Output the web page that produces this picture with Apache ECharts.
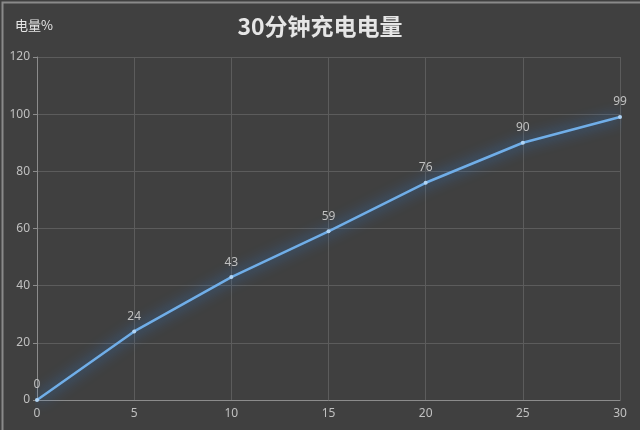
<!DOCTYPE html>
<html><head><meta charset="utf-8">
<script src="https://cdn.jsdelivr.net/npm/echarts@6/dist/echarts.min.js"></script>
<style>html,body{margin:0;padding:0;background:#404040}#c{width:640px;height:430px}</style>
</head><body><div id="c"></div>
<script>
const minutes = [0, 5, 10, 15, 20, 25, 30];
const charge = [0, 24, 43, 59, 76, 90, 99];
const titleText = '30分钟充电电量';
const yName = '电量%';
const chart = echarts.init(document.getElementById('c'));
chart.setOption({
  backgroundColor: '#404040',
  animation: false,
  title: { text: titleText, left: 'center', top: 10,
    textStyle: { color: '#e6e6e6', fontSize: 23, fontWeight: 'bold', fontFamily: 'Noto Sans CJK SC' } },
  graphic: [{ type: 'rect', left: 0, top: 0, shape: { width: 639, height: 429 },
    style: { fill: 'none', stroke: '#8a8a8a', lineWidth: 2 }, silent: true },
    { type: 'text', left: 15, top: 19, style: { text: yName, fill: '#e6e6e6', fontSize: 13, fontFamily: 'Noto Sans CJK SC' } }],
  grid: { left: 37, right: 20, top: 57, bottom: 30 },
  xAxis: { type: 'value', min: 0, max: 30, interval: 5,
    axisLine: { lineStyle: { color: '#8c8c8c' } },
    axisTick: { show: false },
    axisLabel: { color: '#c0c0c0', fontSize: 12, margin: 8, fontFamily: 'Noto Sans' },
    splitLine: { show: true, lineStyle: { color: '#5c5c5c' } } },
  yAxis: { type: 'value', min: 0, max: 120, interval: 20,
    axisLine: { show: true, lineStyle: { color: '#8c8c8c' } },
    axisTick: { show: true, length: 4, lineStyle: { color: '#8c8c8c' } },
    axisLabel: { color: '#c0c0c0', fontSize: 12, margin: 7, fontFamily: 'Noto Sans' },
    splitLine: { show: true, lineStyle: { color: '#5c5c5c' } } },
  series: [{ type: 'line', data: minutes.map((m, i) => [m, charge[i]]),
    symbol: 'circle', symbolSize: 4,
    itemStyle: { color: '#b0d4f5' },
    lineStyle: { color: '#70aee8', width: 2.5, shadowColor: '#2f86e8', shadowBlur: 14 },
    label: { show: true, position: 'top', distance: 7, color: '#c0c0c0', fontSize: 12, fontFamily: 'Noto Sans' },
    clip: false }]
});
</script></body></html>
